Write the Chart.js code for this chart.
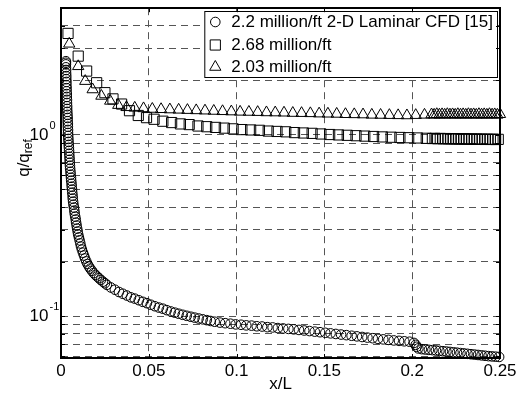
<!DOCTYPE html>
<html>
<head>
<meta charset="utf-8">
<script src="https://cdn.jsdelivr.net/npm/chart.js@4.4.0/dist/chart.umd.min.js"></script>
<style>
  html, body { margin: 0; padding: 0; background: #fff; }
  canvas { display: block; }
</style>
</head>
<body>
<canvas id="chart" width="531" height="393"></canvas>
<script>
// values (x/L, q/qref)
var cfdX = [
  0.0028, 0.0028, 0.0028, 0.0028, 0.0029, 0.0029, 0.0030, 0.0030, 0.0031, 0.0031,
  0.0032, 0.0032, 0.0033, 0.0033, 0.0034, 0.0034, 0.0035, 0.0035, 0.0036, 0.0037,
  0.0038, 0.0038, 0.0039, 0.0039, 0.0040, 0.0040, 0.0041, 0.0042, 0.0043, 0.0044,
  0.0045, 0.0046, 0.0047, 0.0048, 0.0049, 0.0050, 0.0051, 0.0052, 0.0054, 0.0055,
  0.0057, 0.0058, 0.0060, 0.0061, 0.0063, 0.0064, 0.0066, 0.0067, 0.0069, 0.0071,
  0.0074, 0.0076, 0.0078, 0.0081, 0.0084, 0.0086, 0.0089, 0.0092, 0.0095, 0.0098,
  0.0102, 0.0106, 0.0110, 0.0114, 0.0119, 0.0125, 0.0131, 0.0137, 0.0144, 0.0151,
  0.0159, 0.0167, 0.0176, 0.0186, 0.0196, 0.0206, 0.0216, 0.0227, 0.0239, 0.0250,
  0.0261, 0.0284, 0.0307, 0.0330, 0.0352, 0.0375, 0.0398, 0.0420, 0.0443, 0.0466,
  0.0489, 0.0511, 0.0534, 0.0557, 0.0580, 0.0602, 0.0625, 0.0648, 0.0670, 0.0693,
  0.0716, 0.0739, 0.0761, 0.0784, 0.0807, 0.0830, 0.0852, 0.0875, 0.0905, 0.0935,
  0.0965, 0.0995, 0.1025, 0.1055, 0.1085, 0.1115, 0.1145, 0.1175, 0.1205, 0.1235,
  0.1265, 0.1295, 0.1325, 0.1355, 0.1385, 0.1415, 0.1445, 0.1475, 0.1505, 0.1535,
  0.1565, 0.1595, 0.1625, 0.1655, 0.1685, 0.1715, 0.1745, 0.1775, 0.1805, 0.1835,
  0.1865, 0.1895, 0.1925, 0.1955, 0.1985, 0.2010, 0.2020, 0.2025, 0.2035, 0.2055,
  0.2075, 0.2095, 0.2115, 0.2135, 0.2155, 0.2175, 0.2195, 0.2215, 0.2235, 0.2255,
  0.2275, 0.2295, 0.2315, 0.2335, 0.2355, 0.2375, 0.2395, 0.2415, 0.2435, 0.2455,
  0.2475, 0.2495
];
var cfdY = [
  2.55, 2.50, 2.45, 2.36, 2.28, 2.19, 2.11, 2.03, 1.96, 1.88,
  1.81, 1.74, 1.68, 1.62, 1.56, 1.50, 1.44, 1.39, 1.34, 1.29,
  1.24, 1.19, 1.15, 1.11, 1.065, 1.025, 0.987, 0.950, 0.915, 0.881,
  0.849, 0.817, 0.787, 0.757, 0.729, 0.702, 0.676, 0.651, 0.626, 0.603,
  0.580, 0.559, 0.538, 0.518, 0.499, 0.480, 0.462, 0.445, 0.428, 0.412,
  0.397, 0.382, 0.368, 0.354, 0.341, 0.328, 0.316, 0.304, 0.293, 0.282,
  0.272, 0.262, 0.252, 0.242, 0.233, 0.224, 0.216, 0.208, 0.2005, 0.194,
  0.188, 0.183, 0.178, 0.173, 0.169, 0.1655, 0.162, 0.1585, 0.155, 0.152,
  0.149, 0.144, 0.140, 0.136, 0.133, 0.130, 0.127, 0.125, 0.1225, 0.120,
  0.118, 0.1157, 0.1135, 0.1116, 0.110, 0.108, 0.1062, 0.1046, 0.1032, 0.1018,
  0.1005, 0.0993, 0.0982, 0.0971, 0.0961, 0.0951, 0.0941, 0.0932, 0.0922, 0.0915,
  0.0909, 0.0901, 0.0897, 0.0890, 0.0887, 0.0880, 0.0877, 0.0870, 0.0867, 0.0860,
  0.0856, 0.0851, 0.0846, 0.0840, 0.0834, 0.0828, 0.0822, 0.0816, 0.0810, 0.0804,
  0.0798, 0.0792, 0.0786, 0.0780, 0.0774, 0.0768, 0.0762, 0.0756, 0.0750, 0.0745,
  0.0740, 0.0735, 0.0731, 0.0727, 0.0723, 0.0712, 0.0695, 0.0678, 0.0664, 0.0658,
  0.0655, 0.0652, 0.0650, 0.0647, 0.0644, 0.0641, 0.0638, 0.0635, 0.0632, 0.0629,
  0.0626, 0.0623, 0.0620, 0.0617, 0.0614, 0.0611, 0.0608, 0.0605, 0.0602, 0.0600,
  0.0598, 0.0596
];

var sqX = [
  0.0040, 0.0098, 0.0146, 0.0203, 0.0250, 0.0296, 0.0345, 0.0390, 0.0440, 0.0487,
  0.0530, 0.0580, 0.0630, 0.0680, 0.0730, 0.0780, 0.0830, 0.0880, 0.0930, 0.0980,
  0.1030, 0.1080, 0.1130, 0.1180, 0.1230, 0.1280, 0.1330, 0.1380, 0.1430, 0.1480,
  0.1530, 0.1580, 0.1630, 0.1680, 0.1730, 0.1780, 0.1830, 0.1880, 0.1930, 0.1980,
  0.2030, 0.2080, 0.2115, 0.2130, 0.2145, 0.2160, 0.2175, 0.2190, 0.2205, 0.2220,
  0.2235, 0.2250, 0.2265, 0.2280, 0.2295, 0.2310, 0.2325, 0.2340, 0.2355, 0.2370,
  0.2385, 0.2400, 0.2415, 0.2430, 0.2445, 0.2460, 0.2475, 0.2490
];
var sqY = [
  3.63, 2.72, 2.25, 1.94, 1.71, 1.58, 1.48, 1.36, 1.28, 1.245,
  1.22, 1.19, 1.17, 1.15, 1.14, 1.12, 1.11, 1.10, 1.09, 1.08,
  1.07, 1.065, 1.06, 1.05, 1.045, 1.04, 1.03, 1.025, 1.02, 1.012,
  1.005, 1.0, 0.995, 0.99, 0.985, 0.98, 0.975, 0.971, 0.968, 0.965,
  0.962, 0.958, 0.955, 0.957, 0.953, 0.956, 0.952, 0.955, 0.951, 0.954,
  0.950, 0.953, 0.949, 0.952, 0.948, 0.951, 0.947, 0.950, 0.946, 0.949,
  0.945, 0.948, 0.944, 0.947, 0.944, 0.946, 0.943, 0.945
];

var triX = [
  0.0047, 0.0098, 0.0138, 0.0180, 0.0230, 0.0280, 0.0326, 0.0373, 0.0420, 0.0470,
  0.0520, 0.0570, 0.0620, 0.0670, 0.0720, 0.0770, 0.0820, 0.0870, 0.0920, 0.0970,
  0.1020, 0.1070, 0.1120, 0.1170, 0.1220, 0.1270, 0.1320, 0.1370, 0.1420, 0.1470,
  0.1520, 0.1570, 0.1620, 0.1670, 0.1720, 0.1770, 0.1820, 0.1870, 0.1920, 0.1970,
  0.2020, 0.2070, 0.2110, 0.2125, 0.2140, 0.2155, 0.2170, 0.2185, 0.2200, 0.2215,
  0.2230, 0.2245, 0.2260, 0.2275, 0.2290, 0.2305, 0.2320, 0.2335, 0.2350, 0.2365,
  0.2380, 0.2395, 0.2410, 0.2425, 0.2440, 0.2455, 0.2470, 0.2485, 0.2500
];
var triY = [
  3.18, 2.39, 1.98, 1.78, 1.64, 1.54, 1.46, 1.42, 1.41, 1.40,
  1.39, 1.385, 1.38, 1.375, 1.37, 1.365, 1.36, 1.355, 1.35, 1.345,
  1.34, 1.338, 1.335, 1.33, 1.328, 1.325, 1.32, 1.318, 1.315, 1.31,
  1.308, 1.305, 1.30, 1.298, 1.295, 1.29, 1.288, 1.285, 1.282, 1.28,
  1.285, 1.29, 1.295, 1.29, 1.30, 1.292, 1.298, 1.29, 1.30, 1.293,
  1.297, 1.29, 1.30, 1.292, 1.298, 1.29, 1.30, 1.293, 1.297, 1.29,
  1.30, 1.292, 1.298, 1.29, 1.30, 1.293, 1.297, 1.29, 1.30
];

var seriesLabels = ['2.2 million/ft 2-D Laminar CFD [15]', '2.68 million/ft', '2.03 million/ft'];
var xTicks = [0, 0.05, 0.1, 0.15, 0.2, 0.25];
var xTickLabels = ['0', '0.05', '0.1', '0.15', '0.2', '0.25'];
var yTicks = [0.06, 0.07, 0.08, 0.09, 0.1, 0.2, 0.3, 0.4, 0.5, 0.6, 0.7, 0.8, 0.9, 1, 2, 3, 4];
var yLabelValues = [0.1, 1];
var yLabelExponents = ['-1', '0'];

var FONT = "'Liberation Sans', Arial, Helvetica, sans-serif";

function pts(xs, ys) {
  return xs.map(function(x, i) { return { x: x, y: ys[i] }; });
}

// frame, inner ticks, log labels with superscripts, axis titles and boxed legend
var decorPlugin = {
  id: 'decor',
  afterDraw: function(chart) {
    var ctx = chart.ctx, a = chart.chartArea;
    var xs = chart.scales.x, ys = chart.scales.y;
    ctx.save();

    // legend box
    ctx.font = '17px ' + FONT;
    var textW = 0;
    chart.data.datasets.forEach(function(ds) { textW = Math.max(textW, ctx.measureText(ds.label).width); });
    var textX = 493 - textW;
    var markX = textX - 16;
    var boxL = markX - 11, boxT = 11, boxR = 497, boxB = 77;
    var rows = [22, 45, 67];
    ctx.fillStyle = '#fff';
    ctx.fillRect(boxL, boxT, boxR - boxL, boxB - boxT);
    ctx.strokeStyle = '#000';
    ctx.lineWidth = 1;
    ctx.strokeRect(boxL + 0.5, boxT + 0.5, boxR - boxL, boxB - boxT);
    chart.data.datasets.forEach(function(ds, i) {
      ctx.strokeStyle = '#000';
      ctx.fillStyle = 'rgba(0,0,0,0)';
      ctx.lineWidth = 1;
      Chart.helpers.drawPoint(ctx, { pointStyle: ds.pointStyle, radius: ds.pointRadius, borderWidth: 1, rotation: 0 }, markX, rows[i]);
      ctx.fillStyle = '#000';
      ctx.textAlign = 'left';
      ctx.textBaseline = 'middle';
      ctx.fillText(ds.label, textX, rows[i]);
    });

    // frame
    ctx.strokeStyle = '#000';
    ctx.lineWidth = 2;
    ctx.strokeRect(Math.round(a.left), Math.round(a.top), Math.round(a.right - a.left), Math.round(a.bottom - a.top));

    // inner tick marks
    ctx.lineWidth = 1;
    ctx.beginPath();
    yTicks.forEach(function(v) {
      var py = Math.round(ys.getPixelForValue(v)) + 0.5;
      ctx.moveTo(a.left, py); ctx.lineTo(a.left + 4, py);
      ctx.moveTo(a.right - 4, py); ctx.lineTo(a.right, py);
    });
    xTicks.forEach(function(v) {
      var px = Math.round(xs.getPixelForValue(v)) + 0.5;
      ctx.moveTo(px, a.bottom); ctx.lineTo(px, a.bottom - 4);
      ctx.moveTo(px, a.top); ctx.lineTo(px, a.top + 4);
    });
    ctx.stroke();

    // y labels 10^n
    ctx.fillStyle = '#000';
    yLabelValues.forEach(function(v, i) {
      var py = ys.getPixelForValue(v);
      ctx.font = '17px ' + FONT;
      ctx.textAlign = 'right';
      ctx.textBaseline = 'middle';
      ctx.fillText('10', 48.5, py);
      ctx.font = '11px ' + FONT;
      ctx.textAlign = 'left';
      ctx.fillText(yLabelExponents[i], 49.5, py - 9);
    });

    // x title
    ctx.font = '17px ' + FONT;
    ctx.textAlign = 'center';
    ctx.textBaseline = 'middle';
    ctx.fillText('x/L', (a.left + a.right) / 2, 384);

    // y title q/q_ref
    ctx.save();
    ctx.translate(24, 158);
    ctx.rotate(-Math.PI / 2);
    ctx.font = '17px ' + FONT;
    var w1 = ctx.measureText('q/q').width;
    ctx.font = '12px ' + FONT;
    var w2 = ctx.measureText('ref').width;
    var sx = -(w1 + w2) / 2;
    ctx.textAlign = 'left';
    ctx.textBaseline = 'middle';
    ctx.font = '17px ' + FONT;
    ctx.fillText('q/q', sx, 0);
    ctx.font = '12px ' + FONT;
    ctx.fillText('ref', sx + w1, 5);
    ctx.restore();

    ctx.restore();
  }
};

new Chart(document.getElementById('chart'), {
  type: 'scatter',
  data: {
    datasets: [
      { label: seriesLabels[0], data: pts(cfdX, cfdY), pointStyle: 'circle', pointRadius: 4.8,
        borderColor: '#000', backgroundColor: 'rgba(0,0,0,0)', borderWidth: 1, clip: false },
      { label: seriesLabels[1], data: pts(sqX, sqY), pointStyle: 'rect', pointRadius: 7.2,
        borderColor: '#000', backgroundColor: 'rgba(0,0,0,0)', borderWidth: 1, clip: false },
      { label: seriesLabels[2], data: pts(triX, triY), pointStyle: 'triangle', pointRadius: 6.5,
        borderColor: '#000', backgroundColor: 'rgba(0,0,0,0)', borderWidth: 1, clip: false }
    ]
  },
  options: {
    responsive: false,
    animation: false,
    layout: { padding: { left: 0, right: 31, top: 7, bottom: 0 } },
    plugins: { legend: { display: false }, tooltip: { enabled: false } },
    scales: {
      x: {
        type: 'linear', min: 0, max: 0.25,
        afterBuildTicks: function(s) { s.ticks = xTicks.map(function(v) { return { value: v }; }); },
        afterFit: function(s) { s.height = 35; },
        grid: { color: '#555', lineWidth: 1, drawTicks: false },
        border: { display: false, dash: [7, 5] },
        ticks: {
          padding: 3, color: '#000', maxRotation: 0, autoSkip: false,
          font: { family: FONT, size: 17 },
          callback: function(v, i) { return xTickLabels[i]; }
        }
      },
      y: {
        type: 'logarithmic', min: 0.0588, max: 5,
        afterBuildTicks: function(s) { s.ticks = yTicks.map(function(v) { return { value: v }; }); },
        afterFit: function(s) { s.width = 61; },
        grid: { color: '#555', lineWidth: 1, drawTicks: false },
        border: { display: false, dash: [7, 5] },
        ticks: { display: false }
      }
    }
  },
  plugins: [decorPlugin]
});
</script>
</body>
</html>
